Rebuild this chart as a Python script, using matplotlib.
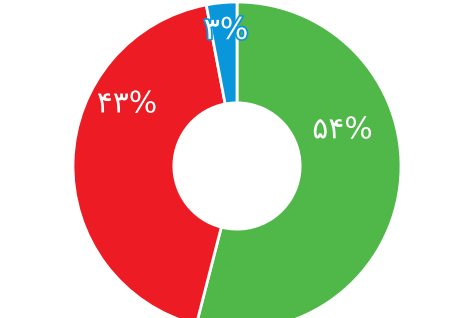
import matplotlib
matplotlib.use("Agg")
import matplotlib.pyplot as plt
import matplotlib.patheffects as pe
import numpy as np

labels = ["۵۴%", "۴۳%", "۳%"]
values = [54, 43, 3]
colors = ["#4FB848", "#ED1C24", "#0A96DA"]

fig = plt.figure(figsize=(4.56, 3.18), dpi=100)
ax = fig.add_axes([0, 0, 1, 1])

cx, cy, R = 237, 152, 164
wedges, _ = ax.pie(values, colors=colors, startangle=90, counterclock=False,
                   center=(cx, cy), radius=R, frame=True,
                   wedgeprops=dict(width=R * 0.615, edgecolor="white", linewidth=2))
ax.set_xlim(0, 456)
ax.set_ylim(0, 318)
ax.set_aspect("equal")
ax.axis("off")

# label placement (angle in degrees, radius fraction)
label_ang = [18.9, 150.6, 94.6]
label_rad = [0.68, 0.77, 0.83]
for lab, a, r, c in zip(labels, label_ang, label_rad, colors):
    x = cx + r * R * np.cos(np.radians(a))
    y = cy + r * R * np.sin(np.radians(a))
    t = ax.text(x, y, lab, ha="center", va="center", color="white",
                fontsize=21.5, family=["DejaVu Sans"])
    t.set_path_effects([pe.withStroke(linewidth=2.5, foreground=c)])

fig.savefig("out.png", dpi=100)
